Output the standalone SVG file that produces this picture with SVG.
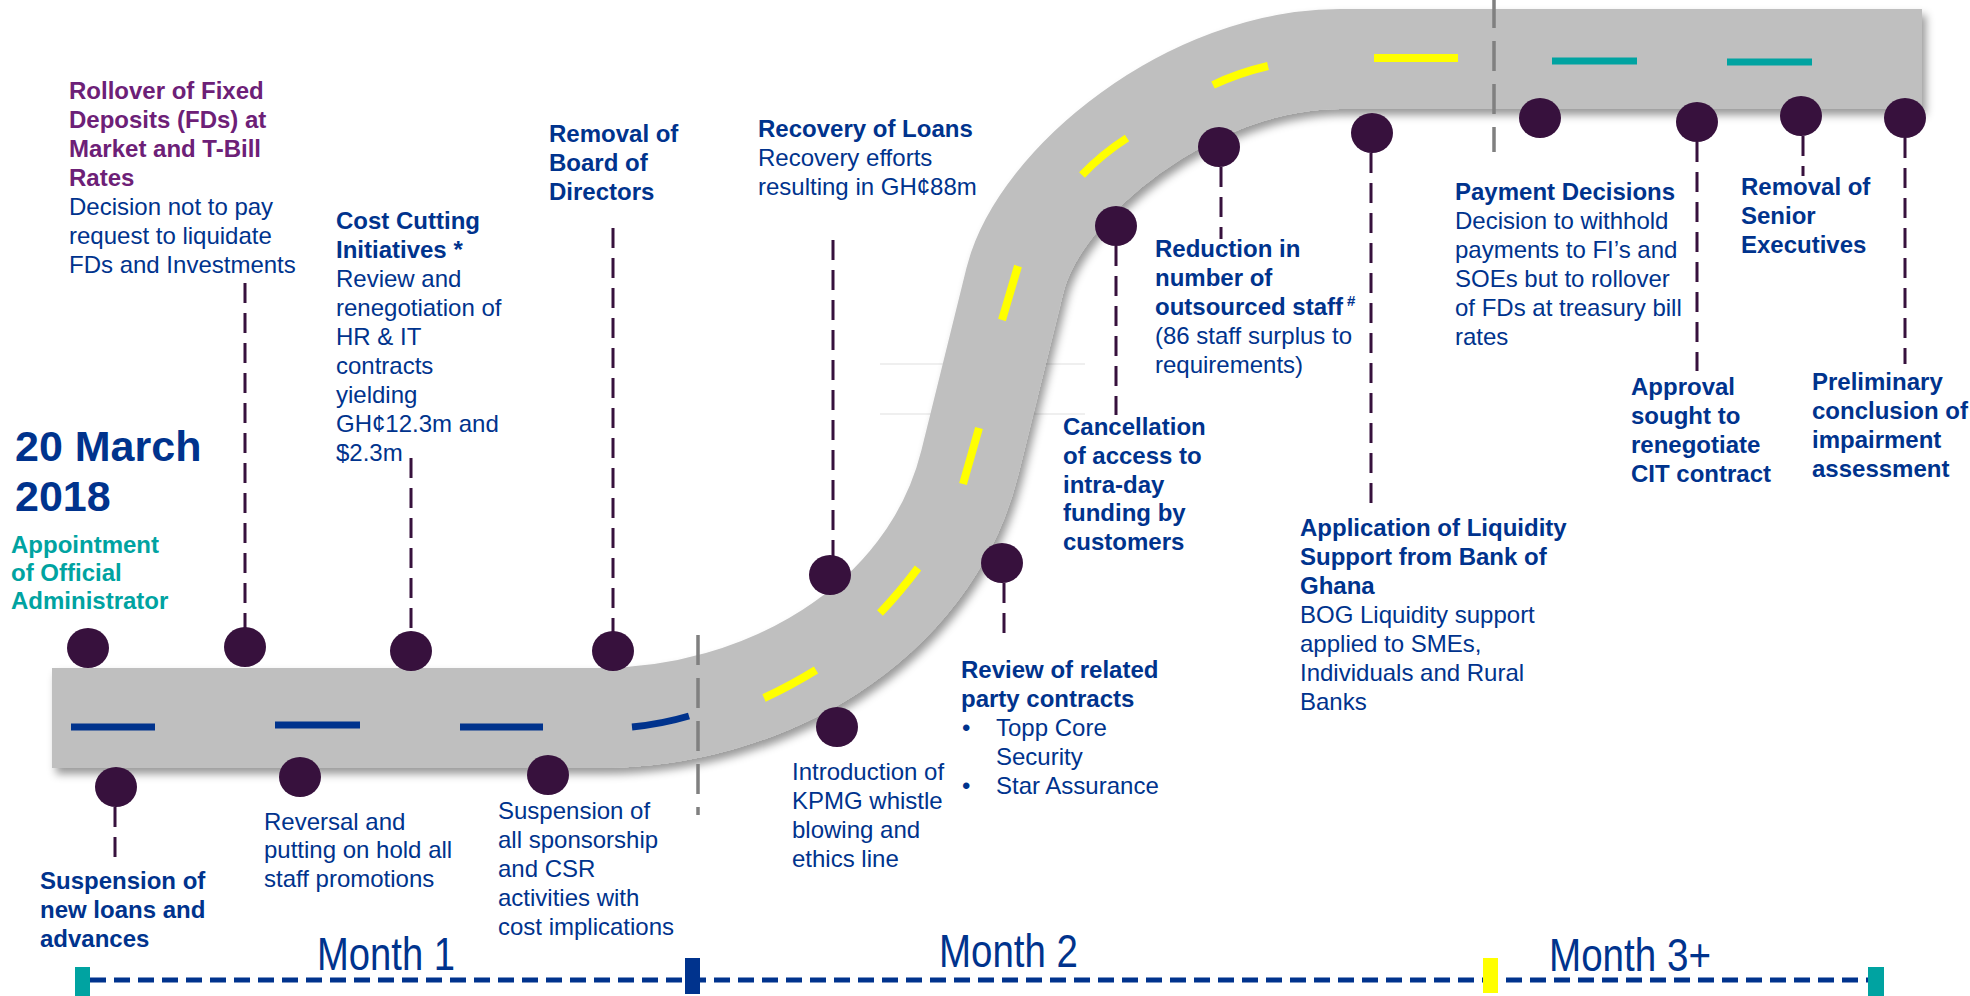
<svg xmlns="http://www.w3.org/2000/svg" width="1970" height="996" viewBox="0 0 1970 996">
  <style>
    text { font-family: "Liberation Sans", Arial, sans-serif; font-size: 24px; }
    .b { font-weight: bold; fill: #00338D; }
    .r { fill: #00338D; }
    .pb { font-weight: bold; fill: #6D2077; }
    .tb { font-weight: bold; fill: #00A3A1; }
    .big { font-weight: bold; fill: #00338D; font-size: 43px; }
    .month { fill: #00338D; font-size: 46px; }
    .dot { fill: #37113D; }
    .conn { stroke: #37113D; stroke-width: 3; stroke-dasharray: 20 10; fill: none; }
    .sep { stroke: #808080; stroke-width: 3.5; stroke-dasharray: 30 13; fill: none; }
    .lane { fill: none; stroke-width: 7; }
    .blue { stroke: #00338D; }
    .yellow { stroke: #FFFF00; stroke-width: 8; }
    .teal { stroke: #00A3A1; }
  </style>
  <defs>
    <filter id="roadShadow" filterUnits="userSpaceOnUse" x="0" y="0" width="1970" height="996">
      <feDropShadow dx="4" dy="6" stdDeviation="4" flood-color="#000" flood-opacity="0.4"/>
    </filter>
  </defs>

  <rect width="1970" height="996" fill="#FFFFFF"/>

  <!-- faint guide lines behind the road -->
  <g stroke="#EFEFEF" stroke-width="2">
    <line x1="880" y1="364" x2="1085" y2="364"/>
    <line x1="880" y1="414" x2="1085" y2="414"/>
  </g>

  <!-- road -->
  <g id="road">
    <path d="M 52 718 H 600 C 760 718 929 627 970 462 L 1015 280 C 1039 183 1190 59 1340 59 H 1922"
          fill="none" stroke="#BFBFBF" stroke-width="100" filter="url(#roadShadow)"/>
  </g>

  <!-- lane markings -->
  <g id="lanes">
    <path class="lane blue" d="M 71 727 H 155"/>
    <path class="lane blue" d="M 275 725 H 360"/>
    <path class="lane blue" d="M 460 727 H 543"/>
    <path class="lane blue" d="M 632 727 Q 662 724 689 716"/>
    <path class="lane yellow" d="M 764 698 Q 790 686 816 670"/>
    <path class="lane yellow" d="M 880 613 Q 900 592 918 568"/>
    <path class="lane yellow" d="M 963 484 Q 971 456 979 428"/>
    <path class="lane yellow" d="M 1002 320 L 1018 266"/>
    <path class="lane yellow" d="M 1082 175 Q 1102 154 1127 138"/>
    <path class="lane yellow" d="M 1213 85 Q 1238 73 1268 66"/>
    <path class="lane yellow" d="M 1374 58 H 1458"/>
    <path class="lane teal" d="M 1552 61 H 1637"/>
    <path class="lane teal" d="M 1727 62 H 1812"/>
  </g>

  <!-- month separators across the road -->
  <g id="separators">
    <line class="sep" x1="698" y1="635" x2="698" y2="815"/>
    <line class="sep" x1="1494" y1="-2" x2="1494" y2="152"/>
  </g>

  <!-- connectors from events to their labels -->
  <g id="connectors">
    <line class="conn" x1="245" y1="283" x2="245" y2="628"/>
    <line class="conn" x1="411" y1="458" x2="411" y2="632"/>
    <line class="conn" x1="613" y1="228" x2="613" y2="632"/>
    <line class="conn" x1="833" y1="240" x2="833" y2="556"/>
    <line class="conn" x1="1116" y1="246" x2="1116" y2="415"/>
    <line class="conn" x1="1221" y1="167" x2="1221" y2="239"/>
    <line class="conn" x1="1371" y1="153" x2="1371" y2="506"/>
    <line class="conn" x1="1697" y1="142" x2="1697" y2="371"/>
    <line class="conn" x1="1803" y1="136" x2="1803" y2="176"/>
    <line class="conn" x1="1905" y1="138" x2="1905" y2="364"/>
    <line class="conn" x1="115" y1="807" x2="115" y2="857"/>
    <line class="conn" x1="1004" y1="583" x2="1004" y2="643"/>
  </g>

  <!-- start date -->
  <g id="start-date">
    <text class="big" x="15" y="461">20 March</text>
    <text class="big" x="15" y="511">2018</text>
  </g>

  <g id="appointment">
    <ellipse class="dot" cx="88" cy="648" rx="21" ry="20"/>
    <text class="tb" x="11" y="553">Appointment</text>
    <text class="tb" x="11" y="581">of Official</text>
    <text class="tb" x="11" y="609">Administrator</text>
  </g>

  <g id="rollover">
    <ellipse class="dot" cx="245" cy="647" rx="21" ry="20"/>
    <text class="pb" x="69" y="99">Rollover of Fixed</text>
    <text class="pb" x="69" y="128">Deposits (FDs) at</text>
    <text class="pb" x="69" y="157">Market and T-Bill</text>
    <text class="pb" x="69" y="186">Rates</text>
    <text class="r" x="69" y="215">Decision not to pay</text>
    <text class="r" x="69" y="244">request to liquidate</text>
    <text class="r" x="69" y="273">FDs and Investments</text>
  </g>

  <g id="cost-cutting">
    <ellipse class="dot" cx="411" cy="651" rx="21" ry="20"/>
    <text class="b" x="336" y="229">Cost Cutting</text>
    <text class="b" x="336" y="258">Initiatives *</text>
    <text class="r" x="336" y="287">Review and</text>
    <text class="r" x="336" y="316">renegotiation of</text>
    <text class="r" x="336" y="345">HR &amp; IT</text>
    <text class="r" x="336" y="374">contracts</text>
    <text class="r" x="336" y="403">yielding</text>
    <text class="r" x="336" y="432">GH¢12.3m and</text>
    <text class="r" x="336" y="461">$2.3m</text>
  </g>

  <g id="board-removal">
    <ellipse class="dot" cx="613" cy="651" rx="21" ry="20"/>
    <text class="b" x="549" y="142">Removal of</text>
    <text class="b" x="549" y="171">Board of</text>
    <text class="b" x="549" y="200">Directors</text>
  </g>

  <g id="loan-recovery">
    <ellipse class="dot" cx="830" cy="575" rx="21" ry="20"/>
    <text class="b" x="758" y="137">Recovery of Loans</text>
    <text class="r" x="758" y="166">Recovery efforts</text>
    <text class="r" x="758" y="195">resulting in GH¢88m</text>
  </g>

  <g id="suspension-loans">
    <ellipse class="dot" cx="116" cy="787" rx="21" ry="20"/>
    <text class="b" x="40" y="889">Suspension of</text>
    <text class="b" x="40" y="918">new loans and</text>
    <text class="b" x="40" y="947">advances</text>
  </g>

  <g id="promotions">
    <ellipse class="dot" cx="300" cy="777" rx="21" ry="20"/>
    <text class="r" x="264" y="830">Reversal and</text>
    <text class="r" x="264" y="858">putting on hold all</text>
    <text class="r" x="264" y="887">staff promotions</text>
  </g>

  <g id="sponsorship">
    <ellipse class="dot" cx="548" cy="775" rx="21" ry="20"/>
    <text class="r" x="498" y="819">Suspension of</text>
    <text class="r" x="498" y="848">all sponsorship</text>
    <text class="r" x="498" y="877">and CSR</text>
    <text class="r" x="498" y="906">activities with</text>
    <text class="r" x="498" y="935">cost implications</text>
  </g>

  <g id="whistleblowing">
    <ellipse class="dot" cx="837" cy="727" rx="21" ry="20"/>
    <text class="r" x="792" y="780">Introduction of</text>
    <text class="r" x="792" y="809">KPMG whistle</text>
    <text class="r" x="792" y="838">blowing and</text>
    <text class="r" x="792" y="867">ethics line</text>
  </g>

  <g id="related-party">
    <ellipse class="dot" cx="1002" cy="563" rx="21" ry="20"/>
    <text class="b" x="961" y="678">Review of related</text>
    <text class="b" x="961" y="707">party contracts</text>
    <text class="r" x="962" y="736">•</text>
    <text class="r" x="996" y="736">Topp Core</text>
    <text class="r" x="996" y="765">Security</text>
    <text class="r" x="962" y="794">•</text>
    <text class="r" x="996" y="794">Star Assurance</text>
  </g>

  <g id="intraday">
    <ellipse class="dot" cx="1116" cy="226" rx="21" ry="20"/>
    <text class="b" x="1063" y="435">Cancellation</text>
    <text class="b" x="1063" y="464">of access to</text>
    <text class="b" x="1063" y="493">intra-day</text>
    <text class="b" x="1063" y="521">funding by</text>
    <text class="b" x="1063" y="550">customers</text>
  </g>

  <g id="outsourced-staff">
    <ellipse class="dot" cx="1219" cy="147" rx="21" ry="20"/>
    <text class="b" x="1155" y="257">Reduction in</text>
    <text class="b" x="1155" y="286">number of</text>
    <text class="b" x="1155" y="315">outsourced staff<tspan font-size="15" dx="4" dy="-9">#</tspan></text>
    <text class="r" x="1155" y="344">(86 staff surplus to</text>
    <text class="r" x="1155" y="373">requirements)</text>
  </g>

  <g id="liquidity-support">
    <ellipse class="dot" cx="1372" cy="133" rx="21" ry="20"/>
    <text class="b" x="1300" y="536">Application of Liquidity</text>
    <text class="b" x="1300" y="565">Support from Bank of</text>
    <text class="b" x="1300" y="594">Ghana</text>
    <text class="r" x="1300" y="623">BOG Liquidity support</text>
    <text class="r" x="1300" y="652">applied to SMEs,</text>
    <text class="r" x="1300" y="681">Individuals and Rural</text>
    <text class="r" x="1300" y="710">Banks</text>
  </g>

  <g id="payment-decisions">
    <ellipse class="dot" cx="1540" cy="118" rx="21" ry="20"/>
    <text class="b" x="1455" y="200">Payment Decisions</text>
    <text class="r" x="1455" y="229">Decision to withhold</text>
    <text class="r" x="1455" y="258">payments to FI’s and</text>
    <text class="r" x="1455" y="287">SOEs but to rollover</text>
    <text class="r" x="1455" y="316">of FDs at treasury bill</text>
    <text class="r" x="1455" y="345">rates</text>
  </g>

  <g id="cit-contract">
    <ellipse class="dot" cx="1697" cy="122" rx="21" ry="20"/>
    <text class="b" x="1631" y="395">Approval</text>
    <text class="b" x="1631" y="424">sought to</text>
    <text class="b" x="1631" y="453">renegotiate</text>
    <text class="b" x="1631" y="482">CIT contract</text>
  </g>

  <g id="senior-executives">
    <ellipse class="dot" cx="1801" cy="116" rx="21" ry="20"/>
    <text class="b" x="1741" y="195">Removal of</text>
    <text class="b" x="1741" y="224">Senior</text>
    <text class="b" x="1741" y="253">Executives</text>
  </g>

  <g id="impairment">
    <ellipse class="dot" cx="1905" cy="118" rx="21" ry="20"/>
    <text class="b" x="1812" y="390">Preliminary</text>
    <text class="b" x="1812" y="419">conclusion of</text>
    <text class="b" x="1812" y="448">impairment</text>
    <text class="b" x="1812" y="477">assessment</text>
  </g>

  <!-- month scale -->
  <g id="timeline">
    <line x1="90" y1="980" x2="1868" y2="980" stroke="#00338D" stroke-width="5" stroke-dasharray="16 8"/>
    <rect x="75" y="967" width="15" height="29" fill="#00A3A1"/>
    <rect x="685" y="958" width="15" height="36" fill="#00338D"/>
    <rect x="1483" y="958" width="15" height="35" fill="#FFFF00"/>
    <rect x="1868" y="967" width="16" height="29" fill="#00A3A1"/>
    <text class="month" x="317" y="970" textLength="138" lengthAdjust="spacingAndGlyphs">Month 1</text>
    <text class="month" x="939" y="967" textLength="139" lengthAdjust="spacingAndGlyphs">Month 2</text>
    <text class="month" x="1549" y="971" textLength="162" lengthAdjust="spacingAndGlyphs">Month 3+</text>
  </g>
</svg>
